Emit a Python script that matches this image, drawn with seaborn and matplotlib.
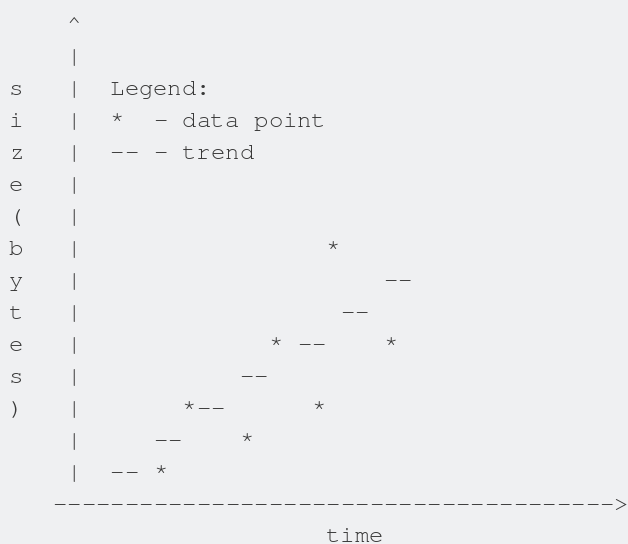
import matplotlib
matplotlib.use("Agg")
import matplotlib.pyplot as plt
import seaborn as sns

# ---- data (grid units: time = character columns right of the y axis,
#      size = text rows above the x axis) ----
point_time = [6, 12, 8, 17, 14, 22, 18]
point_size = [1, 2, 3, 3, 5, 5, 8]
trend_time = [3, 6, 9, 12, 16, 19, 22]
trend_size = [1, 2, 3, 4, 5, 6, 7]
y_label = "size(bytes)"
x_label = "time"
legend_lines = ["Legend:", "*  - data point", "-- - trend"]

# ---- style ----
BG = "#eff0f2"
FG = "#383838"
sns.set_theme(style="white")
plt.rcParams["font.family"] = ["FreeMono", "Liberation Mono", "DejaVu Sans Mono"]

fig = plt.figure(figsize=(6.28, 5.44), dpi=100, facecolor=BG)
ax = fig.add_axes([0, 0, 1, 1])
ax.set_facecolor(BG)
ax.set_xlim(-5.111, 38.5)
ax.set_ylim(-1.1875, 15.8125)
ax.axis("off")

FS = 17.28  # 24 px
BASE = 0.156  # baseline offset below row centre


def put(t, s, ch, color=FG, base=BASE):
    if ch == " ":
        return
    ax.text(t, s - base, ch, ha="center", va="baseline", fontsize=FS,
            color=color)


def put_str(t0, s, text, color=FG, base=BASE):
    for i, ch in enumerate(text):
        put(t0 + i, s, ch, color, base)


# y axis
put(0, 15, "^")
for s in range(1, 15):
    put(0, s, "|")
# y label, one letter per row
for i, ch in enumerate(y_label):
    put(-4, 13 - i, ch)
# x axis
for t in range(-1, 38):
    put(t, 0, "-")
put(38, 0, ">")
put_str(18, -1, x_label, base=0.11)
# legend
for i, line in enumerate(legend_lines):
    put_str(3, 13 - i, line)

# trend segments
for t, s in zip(trend_time, trend_size):
    put_str(t, s, "--")
# data points
for t, s in zip(point_time, point_size):
    put(t, s, "*")

fig.savefig("out.png", dpi=100, facecolor=BG)
